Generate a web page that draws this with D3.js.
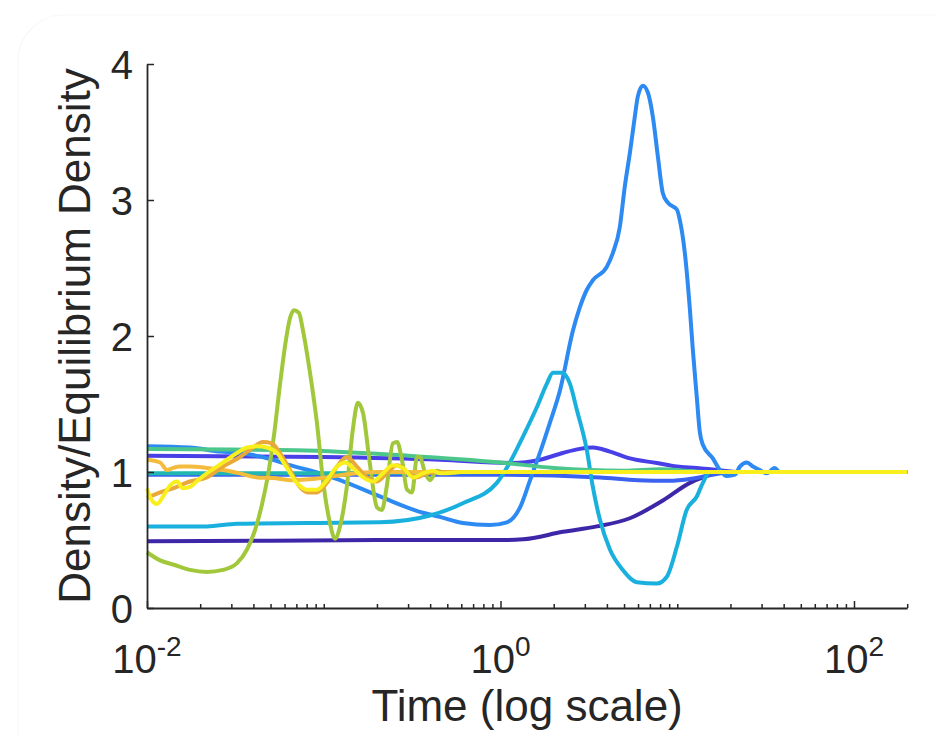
<!DOCTYPE html>
<html>
<head>
<meta charset="utf-8">
<script src="https://cdn.jsdelivr.net/npm/d3@7"></script>
<style>
  body { margin: 0; background: #ffffff; }
  svg { display: block; }
</style>
</head>
<body>
<svg id="chart" width="936" height="736"></svg>
<script>
// Density relative to equilibrium density over time, one run per line.
// Each series is a list of [time, density/equilibrium] pairs.
const seriesNavy = [
  [0.01, 0.49], [0.05, 0.495], [0.2, 0.5], [0.6, 0.5], [1.0, 0.5], [1.34, 0.505],
  [2.25, 0.56], [3.51, 0.6], [5.39, 0.66], [8.29, 0.79], [11.8, 0.92], [13.96, 0.96],
  [17.4, 1.0], [30, 1.0], [200, 1.0]
];
const seriesIndigo = [
  [0.01, 1.12], [0.1, 1.11], [0.454, 1.09], [1.175, 1.066], [1.67, 1.09], [2.25, 1.14],
  [2.81, 1.17], [3.33, 1.18], [4.16, 1.15], [5.4, 1.10], [7.67, 1.066], [9.95, 1.04],
  [12.9, 1.03], [16.7, 1.015], [22.6, 1.0], [200, 1.0]
];
const seriesBlue = [
  [0.01, 0.98], [0.1, 0.98], [1.0, 0.98], [3.65, 0.96], [6.0, 0.94], [9.0, 0.935],
  [12.0, 0.95], [15.3, 0.975], [20, 1.0], [200, 1.0]
];
const seriesAzure = [
  [0.01, 1.19], [0.0175, 1.18], [0.026, 1.15], [0.0336, 1.14], [0.0516, 1.09], [0.0644, 1.05],
  [0.0953, 0.99], [0.1236, 0.94], [0.208, 0.82], [0.364, 0.70], [0.454, 0.67], [0.612, 0.625],
  [0.871, 0.61], [1.087, 0.63], [1.29, 0.74], [1.47, 0.94], [1.67, 1.14], [1.90, 1.36],
  [2.17, 1.60], [2.57, 2.04], [2.81, 2.21], [3.08, 2.34], [3.33, 2.41], [4.0, 2.51],
  [4.32, 2.61], [4.73, 2.80], [5.05, 3.10], [5.40, 3.35], [5.75, 3.61], [5.98, 3.76],
  [6.39, 3.84], [6.82, 3.79], [7.28, 3.61], [7.77, 3.32], [8.29, 3.05], [8.85, 2.98],
  [9.95, 2.93], [10.35, 2.85], [11.04, 2.61], [11.8, 2.19], [12.25, 1.9], [12.9, 1.55],
  [13.4, 1.3], [13.96, 1.2], [15.9, 1.1], [17.4, 1.015], [19.1, 0.97], [21.2, 0.98],
  [22.6, 1.04], [24.8, 1.07], [26.8, 1.04], [29.3, 1.015], [32.1, 0.99], [35.6, 1.03],
  [38, 1.0], [49.3, 1.0], [200, 1.0]
];
const seriesCyan = [
  [0.01, 0.60], [0.0218, 0.60], [0.0323, 0.62], [0.08, 0.625], [0.208, 0.63], [0.399, 0.68],
  [0.612, 0.77], [0.954, 0.92], [1.13, 1.07], [1.34, 1.26], [1.61, 1.48], [1.83, 1.65],
  [1.98, 1.73], [2.22, 1.73], [2.47, 1.65], [2.70, 1.46], [3.08, 1.16], [3.33, 0.89],
  [3.65, 0.65], [4.16, 0.43], [4.92, 0.28], [5.91, 0.19], [7.67, 0.18], [8.73, 0.23],
  [9.95, 0.45], [11.3, 0.72], [12.9, 0.82], [13.96, 0.92], [15.3, 1.0], [17.4, 1.0], [200, 1.0]
];
const seriesTeal = [
  [0.01, 0.99], [0.1, 0.99], [1.0, 1.0], [200, 1.0]
];
const seriesGreen = [
  [0.01, 1.17], [0.03, 1.165], [0.07, 1.16], [0.3, 1.12], [1.0, 1.07], [2.0, 1.03],
  [5.0, 1.01], [8.0, 1.02], [15, 1.0], [200, 1.0]
];
const seriesLime = [
  [0.01, 0.41], [0.01186, 0.35], [0.01403, 0.32], [0.0175, 0.28], [0.0218, 0.265],
  [0.0269, 0.28], [0.0323, 0.33], [0.0368, 0.43], [0.0408, 0.57], [0.0447, 0.76],
  [0.0484, 0.98], [0.0523, 1.27], [0.0565, 1.64], [0.0611, 1.97], [0.0644, 2.13],
  [0.0678, 2.19], [0.0724, 2.17], [0.0763, 2.04], [0.0836, 1.73], [0.0915, 1.36],
  [0.099, 0.94], [0.1084, 0.625], [0.1157, 0.51], [0.1236, 0.6], [0.135, 0.89],
  [0.146, 1.31], [0.156, 1.51], [0.167, 1.43], [0.182, 1.07], [0.200, 0.74],
  [0.213, 0.72], [0.227, 0.89], [0.246, 1.21], [0.260, 1.22], [0.277, 1.09],
  [0.296, 0.87], [0.316, 0.85], [0.337, 1.11], [0.350, 1.11], [0.373, 1.0],
  [0.399, 0.94], [0.437, 1.01], [0.498, 0.99], [0.589, 1.0], [200, 1.0]
];
const seriesGold = [
  [0.01, 1.09], [0.01186, 1.07], [0.01297, 1.015], [0.01403, 1.03], [0.01538, 1.04],
  [0.0175, 1.04], [0.0218, 1.03], [0.0269, 1.015], [0.0336, 0.99], [0.042, 0.96],
  [0.0516, 0.956], [0.0644, 0.94], [0.09, 0.95], [0.13, 0.98], [0.2, 1.0], [200, 1.0]
];
const seriesOrange = [
  [0.01, 0.81], [0.01186, 0.85], [0.01403, 0.88], [0.0175, 0.93], [0.0218, 0.96],
  [0.0269, 1.04], [0.0336, 1.11], [0.0398, 1.18], [0.0453, 1.22], [0.0509, 1.21],
  [0.0565, 1.14], [0.0644, 1.015], [0.0733, 0.89], [0.0814, 0.85], [0.0915, 0.85],
  [0.1042, 0.92], [0.1188, 1.04], [0.135, 1.11], [0.154, 1.04], [0.1755, 0.96],
  [0.200, 0.93], [0.227, 0.99], [0.260, 1.05], [0.296, 1.0], [0.337, 0.96],
  [0.383, 0.99], [0.454, 1.0], [200, 1.0]
];
const seriesYellow = [
  [0.01, 0.88], [0.01067, 0.79], [0.01139, 0.765], [0.01232, 0.82], [0.01349, 0.90],
  [0.01478, 0.93], [0.01598, 0.88], [0.0175, 0.89], [0.01943, 0.94], [0.0218, 0.99],
  [0.0249, 1.04], [0.02835, 1.09], [0.0323, 1.14], [0.0368, 1.18], [0.0419, 1.19],
  [0.0477, 1.18], [0.0544, 1.14], [0.0619, 1.03], [0.0705, 0.92], [0.0803, 0.87],
  [0.0915, 0.87], [0.1042, 0.94], [0.1188, 1.04], [0.1318, 1.07], [0.146, 1.03],
  [0.167, 0.96], [0.190, 0.93], [0.216, 0.99], [0.246, 1.05], [0.281, 1.03],
  [0.320, 0.96], [0.364, 0.99], [0.415, 1.01], [0.454, 0.99], [0.6, 1.0], [200, 1.0]
];

// Drawing order (later lines sit on top) and line colours.
const seriesList = [
  seriesNavy, seriesIndigo, seriesBlue, seriesAzure, seriesCyan,
  seriesTeal, seriesGreen, seriesLime, seriesGold, seriesOrange, seriesYellow
];
const seriesColors = [
  "#3e26a8", "#4840e6", "#3c62f0", "#2d8af2", "#1ab0de",
  "#20b6b2", "#4cc78c", "#a0c83a", "#f4bc3c", "#eaa83a", "#f8ef1c"
];

const yTicks = [0, 1, 2, 3, 4];
const xMajorTicks = [0.01, 1, 100];
const xTickExponents = ["-2", "0", "2"];
const xLabel = "Time (log scale)";
const yLabel = "Density/Equilibrium Density";

const axisColor = "#262626";
const fontFamily = "'Liberation Sans', Arial, Helvetica, sans-serif";

const svg = d3.select("#chart");

// Very faint rounded frame of the figure window
svg.append("rect")
  .attr("x", 18).attr("y", 15)
  .attr("width", 1000).attr("height", 1000)
  .attr("rx", 46).attr("ry", 46)
  .attr("fill", "none")
  .attr("stroke", "#f7f7f7")
  .attr("stroke-width", 1.2);

const x = d3.scaleLog().domain([0.01, 200]).range([147, 907.2]);
const y = d3.scaleLinear().domain([0, 4]).range([608, 64]);

// Data lines
const line = d3.line()
  .x(d => x(d[0]))
  .y(d => y(d[1]))
  .curve(d3.curveMonotoneX);

svg.append("g")
  .selectAll("path")
  .data(seriesList)
  .join("path")
  .attr("d", line)
  .attr("fill", "none")
  .attr("stroke", (d, i) => seriesColors[i])
  .attr("stroke-width", 4)
  .attr("stroke-linejoin", "round")
  .attr("stroke-linecap", "butt");

// X axis: minor ticks everywhere, longer ticks at the labelled decades
const isMajor = v => xMajorTicks.some(m => Math.abs(m - v) / m < 1e-9);
const gx = svg.append("g")
  .attr("transform", `translate(0,${y(0)})`)
  .call(d3.axisBottom(x)
    .tickValues(x.ticks())
    .tickSize(-4)
    .tickSizeOuter(0)
    .tickFormat(""));
gx.selectAll(".tick line")
  .attr("y2", d => isMajor(d) ? -7 : -4);
gx.select(".domain").attr("stroke", axisColor).attr("stroke-width", 1.8);
gx.selectAll(".tick line").attr("stroke", axisColor).attr("stroke-width", 1.5);

// Decade labels written as 10 with a superscript exponent
const xLabels = svg.append("g")
  .selectAll("text")
  .data(xMajorTicks)
  .join("text")
  .attr("x", d => x(d))
  .attr("y", 673)
  .attr("text-anchor", "middle")
  .attr("font-family", fontFamily)
  .attr("font-size", 40)
  .attr("fill", axisColor);
xLabels.append("tspan").text("10");
xLabels.append("tspan")
  .attr("font-size", 28)
  .attr("dy", -17)
  .text((d, i) => xTickExponents[i]);

// Y axis
const gy = svg.append("g")
  .attr("transform", `translate(${x(0.01)},0)`)
  .call(d3.axisLeft(y)
    .tickValues(yTicks)
    .tickSize(-7)
    .tickSizeOuter(0)
    .tickPadding(14)
    .tickFormat(d3.format("d")));
gy.select(".domain").attr("stroke", axisColor).attr("stroke-width", 1.8);
gy.selectAll(".tick line").attr("stroke", axisColor).attr("stroke-width", 1.5);
gy.selectAll(".tick text")
  .attr("font-family", fontFamily)
  .attr("font-size", 40)
  .attr("fill", axisColor)
  .attr("dy", "0.37em");

// Axis titles
svg.append("text")
  .attr("x", (x.range()[0] + x.range()[1]) / 2)
  .attr("y", 721)
  .attr("text-anchor", "middle")
  .attr("font-family", fontFamily)
  .attr("font-size", 44)
  .attr("fill", axisColor)
  .text(xLabel);

svg.append("text")
  .attr("transform", `translate(90,${(y(0) + y(4)) / 2}) rotate(-90)`)
  .attr("text-anchor", "middle")
  .attr("font-family", fontFamily)
  .attr("font-size", 44)
  .attr("fill", axisColor)
  .text(yLabel);
</script>
</body>
</html>
